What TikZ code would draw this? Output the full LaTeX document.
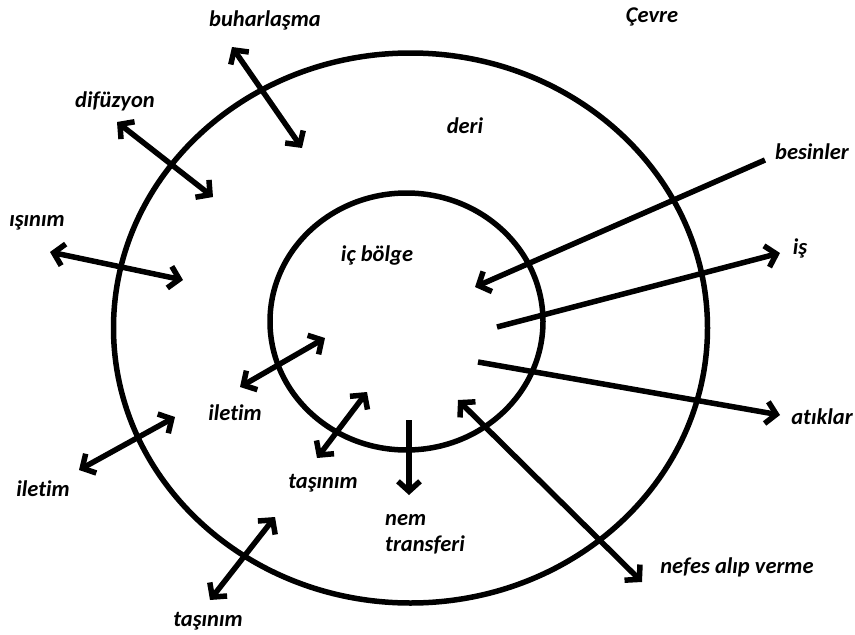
\documentclass[tikz,border=0pt]{standalone}
\usepackage{fontspec}
\setmainfont{Carlito}[Ligatures=NoCommon]
\usetikzlibrary{arrows.meta}
\tikzset{
	lbl/.style={font=\fontsize{22.5}{26}\selectfont\bfseries\itshape},
	ring/.style={line width=5.5pt},
	flow/.style={line width=5.5pt,-{Straight Barb[length=10pt,width=22pt]}},
	dflow/.style={line width=5.5pt,{Straight Barb[length=10pt,width=22pt]}-{Straight Barb[length=10pt,width=22pt]}}
}

\begin{document}
\begin{tikzpicture}[x=1pt,y=-1pt]
			\useasboundingbox (0,0) rectangle (855,635);
			
			% deri ve ic bolge
			\draw[ring] (410.5,328) ellipse [x radius=297, y radius=275];
			\draw[ring] (406.5,321.5) ellipse [x radius=136.5, y radius=128.5];
			
			\node[lbl] (cevre) at (652,17) {Çevre};
			\node[lbl] (deri) at (465,126) {deri};
			\node[lbl] (icbolge) at (377,255) {iç bölge};
			
			% ortam ile deri arasi
			\coordinate (buharA) at (232,47);   \coordinate (buharB) at (302,148);
			\coordinate (difA) at (117,122);    \coordinate (difB) at (213,197);
			\coordinate (isinA) at (50,252);    \coordinate (isinB) at (183,280);
			\coordinate (iletA) at (79,470);    \coordinate (iletB) at (175,417);
			\coordinate (tasA) at (210,600);    \coordinate (tasB) at (275,517);
			\draw[dflow] (buharA) -- (buharB);
			\draw[dflow] (difA) -- (difB);
			\draw[dflow] (isinA) -- (isinB);
			\draw[dflow] (iletA) -- (iletB);
			\draw[dflow] (tasA) -- (tasB);
			
			\node[lbl] (buhar) at (265,20) {buharlaşma};
			\node[lbl] (difuzyon) at (115,101) {difüzyon};
			\node[lbl] (isinim) at (37,223) {ışınım};
			\node[lbl] (iletimdis) at (43,489) {iletim};
			\node[lbl] (tasinimdis) at (208,621) {taşınım};
			
			% deri ile ic bolge arasi
			\coordinate (iletC) at (240,387);   \coordinate (iletD) at (325,338);
			\coordinate (tasC) at (317,458);    \coordinate (tasD) at (367,392);
			\coordinate (nemA) at (409,420);    \coordinate (nemB) at (409,495);
			\draw[dflow] (iletC) -- (iletD);
			\draw[dflow] (tasC) -- (tasD);
			\draw[flow] (nemA) -- (nemB);
			
			\node[lbl] (iletimic) at (235,413) {iletim};
			\node[lbl] (tasinimic) at (323,483) {taşınım};
			\node[lbl,align=left,anchor=west,inner sep=0pt] (nem) at (385,534) {nem\\transferi};
			
			% ic bolge ile ortam arasi
			\coordinate (besA) at (765,160);    \coordinate (besB) at (475,287);
			\coordinate (isA) at (497,327);     \coordinate (isB) at (780,253);
			\coordinate (atikA) at (478,362);   \coordinate (atikB) at (780,415);
			\coordinate (nefA) at (458,400);    \coordinate (nefB) at (642,582);
			\draw[flow] (besA) -- (besB);
			\draw[flow] (isA) -- (isB);
			\draw[flow] (atikA) -- (atikB);
			\draw[dflow] (nefA) -- (nefB);
			
			\node[lbl] (besinler) at (812,152) {besinler};
			\node[lbl] (is) at (800,248) {iş};
			\node[lbl] (atiklar) at (822,417) {atıklar};
			\node[lbl] (nefes) at (737,567) {nefes alıp verme};
		\end{tikzpicture}
\end{document}
